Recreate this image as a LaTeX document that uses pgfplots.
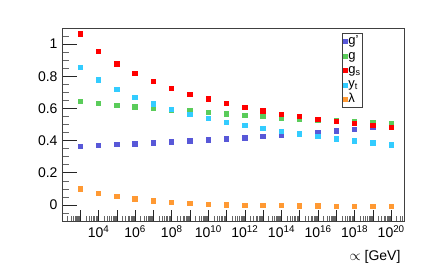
\documentclass[border=0pt]{standalone}
\usepackage{pgfplots}
\pgfplotsset{compat=1.18}
\usepackage{fontspec}
\setmainfont{Liberation Sans}
\definecolor{cgp}{RGB}{88,88,216}
\definecolor{cg}{RGB}{90,204,90}
\definecolor{cgs}{RGB}{255,0,0}
\definecolor{cyt}{RGB}{51,204,255}
\definecolor{clam}{RGB}{255,153,51}
\newcommand\minorlist{200}
\foreach \e in {2,...,20}{\foreach \m in {2,...,9}{\xdef\minorlist{\minorlist,\m e\e}}}
\begin{document}
\begin{tikzpicture}
\useasboundingbox (0,0) rectangle (440pt,277pt);
\begin{axis}[
  at={(62pt,56pt)}, anchor=south west,
  scale only axis, width=342pt, height=193pt,
  xmode=log, xmin=100, xmax=5e20,
  ymin=-0.1, ymax=1.1,
  axis line style={black!75, line width=0.8pt},
  xtick={1e3,1e4,1e5,1e6,1e7,1e8,1e9,1e10,1e11,1e12,1e13,1e14,1e15,1e16,1e17,1e18,1e19,1e20},
  xticklabels={,10\textsuperscript{4},,10\textsuperscript{6},,10\textsuperscript{8},,10\textsuperscript{10},,10\textsuperscript{12},,10\textsuperscript{14},,10\textsuperscript{16},,10\textsuperscript{18},,10\textsuperscript{20}},
  minor xtick/.expanded={\minorlist},
  ytick={0,0.2,0.4,0.6,0.8,1},
  yticklabels={0,0.2,0.4,0.6,0.8,1},
  minor ytick={-0.05,0.05,0.1,0.15,0.25,0.3,0.35,0.45,0.5,0.55,0.65,0.7,0.75,0.85,0.9,0.95,1.05},
  xtick pos=bottom, ytick pos=left,
  tick align=inside,
  major tick length=11pt, minor tick length=5.5pt,
  ytick style={/pgfplots/major tick length=15pt,/pgfplots/minor tick length=7.5pt},
  major tick style={black!85, line width=0.6pt},
  minor tick style={black!60, line width=0.45pt},
  tick label style={font=\fontsize{14}{16}\selectfont},
  xticklabel style={yshift=-1pt},
  yticklabel style={xshift=-1pt},
  /pgf/number format/assume math mode=true,
  xlabel={$\propto$ [GeV]},
  xlabel style={font=\fontsize{14}{16}\selectfont, anchor=north east, at={(axis description cs:1,0)}, yshift=-26pt},
  every axis plot/.append style={only marks, mark=square*, mark size=2.2pt},
  legend style={at={(axis description cs:0.82,0.9725)}, anchor=north west,
    draw=black!75, line width=0.8pt, font=\fontsize{13}{14}\selectfont,
    inner xsep=1pt, inner ysep=1pt, row sep=0pt,
    nodes={inner xsep=0.5pt, inner ysep=0pt, text height=10pt, text depth=4.4pt}},
  legend cell align=left,
  legend image code/.code={\draw[#1, line width=0pt, mark size=2pt] plot coordinates {(2pt,0pt)};},
]
\addplot[color=cgp, mark options={draw=cgp, fill=cgp, line width=0pt}] coordinates {
(1e3,0.364)(1e4,0.368)(1e5,0.375)(1e6,0.379)(1e7,0.385)(1e8,0.391)(1e9,0.397)(1e10,0.404)
(1e11,0.410)(1e12,0.416)(1e13,0.424)(1e14,0.430)(1e15,0.439)(1e16,0.449)(1e17,0.460)(1e18,0.470)(1e19,0.482)(1e20,0.494)};
\addlegendentry{g'}
\addplot[color=cg, mark options={draw=cg, fill=cg, line width=0pt}] coordinates {
(1e3,0.644)(1e4,0.629)(1e5,0.619)(1e6,0.609)(1e7,0.600)(1e8,0.591)(1e9,0.583)(1e10,0.573)
(1e11,0.565)(1e12,0.557)(1e13,0.548)(1e14,0.540)(1e15,0.534)(1e16,0.528)(1e17,0.521)(1e18,0.515)(1e19,0.509)(1e20,0.505)};
\addlegendentry{g}
\addplot[color=cgs, mark options={draw=cgs, fill=cgs, line width=0pt}] coordinates {
(1e3,1.062)(1e4,0.954)(1e5,0.876)(1e6,0.816)(1e7,0.766)(1e8,0.722)(1e9,0.687)(1e10,0.658)
(1e11,0.629)(1e12,0.606)(1e13,0.584)(1e14,0.563)(1e15,0.548)(1e16,0.532)(1e17,0.517)(1e18,0.505)(1e19,0.493)(1e20,0.480)};
\addlegendentry{g\textsubscript{s}}
\addplot[color=cyt, mark options={draw=cyt, fill=cyt, line width=0pt}] coordinates {
(1e3,0.855)(1e4,0.776)(1e5,0.716)(1e6,0.668)(1e7,0.627)(1e8,0.592)(1e9,0.563)(1e10,0.536)
(1e11,0.513)(1e12,0.493)(1e13,0.474)(1e14,0.457)(1e15,0.441)(1e16,0.424)(1e17,0.410)(1e18,0.397)(1e19,0.385)(1e20,0.373)};
\addlegendentry{y\textsubscript{t}}
\addplot[color=clam, mark options={draw=clam, fill=clam, line width=0pt}] coordinates {
(1e3,0.099)(1e4,0.072)(1e5,0.052)(1e6,0.037)(1e7,0.025)(1e8,0.016)(1e9,0.008)(1e10,0.004)
(1e11,0.000)(1e12,-0.002)(1e13,-0.004)(1e14,-0.005)(1e15,-0.006)(1e16,-0.007)(1e17,-0.008)(1e18,-0.008)(1e19,-0.009)(1e20,-0.009)};
\addlegendentry{λ}
\end{axis}
\end{tikzpicture}
\end{document}
